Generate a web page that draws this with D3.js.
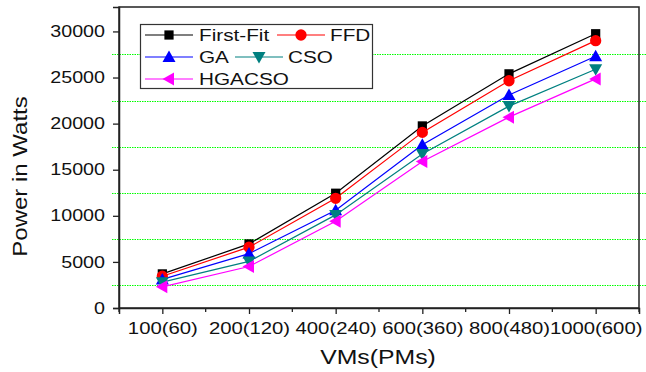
<!DOCTYPE html>
<html><head><meta charset="utf-8">
<script src="https://cdn.jsdelivr.net/npm/d3@7"></script>
<style>body{margin:0;background:#fff}svg{display:block;font-family:Arial,"Liberation Sans",sans-serif}</style>
</head><body><svg id="c" width="646" height="372"></svg>
<script>
const categories = ["100(60)","200(120)","400(240)","600(360)","800(480)","1000(600)"];
const firstFit = [3700, 6950, 12450, 19750, 25400, 29750];
const ffd      = [3450, 6600, 11900, 19050, 24650, 29000];
const ga       = [3100, 5900, 10600, 17700, 23100, 27300];
const cso      = [2800, 5050, 10100, 16700, 21900, 25900];
const hgacso   = [2300, 4500, 9400, 15900, 20700, 24850];
const yTicks = [0,5000,10000,15000,20000,25000,30000];
const gridVals = [2500,7500,12500,17500,22500,27500];
const seriesNames = ["First-Fit","FFD","GA","CSO","HGACSO"];

const series = [
  {name: seriesNames[0], values: firstFit, color: "#000000", sym: "square"},
  {name: seriesNames[1], values: ffd, color: "#ff0000", sym: "circle"},
  {name: seriesNames[2], values: ga, color: "#0000ff", sym: "up"},
  {name: seriesNames[3], values: cso, color: "#008080", sym: "down"},
  {name: seriesNames[4], values: hgacso, color: "#ff00ff", sym: "left"}
];

const FONT = "Arial, 'Liberation Sans', sans-serif";
const svg = d3.select("#c");
const L = 119, R = 639, T = 7, B = 308;
const x = d3.scalePoint().domain(categories).range([L, R]).padding(0.5);
const y = d3.scaleLinear().domain([0, 32650]).range([B, T]);

// grid lines (green dotted)
svg.append("g").attr("class", "grid").selectAll("line").data(gridVals).join("line")
  .attr("x1", 112).attr("x2", 646)
  .attr("y1", d => Math.round(y(d)) + 0.5).attr("y2", d => Math.round(y(d)) + 0.5)
  .style("stroke", "#00ff00").style("stroke-width", "1px")
  .style("stroke-dasharray", "1.5,1");

// frame
svg.append("rect").attr("x", L).attr("y", T).attr("width", R - L).attr("height", B - T)
  .attr("fill", "none").attr("stroke", "#222").attr("stroke-width", 1.5);

// y axis
const yAxis = d3.axisLeft(y).tickValues(yTicks).tickSize(6).tickFormat(d3.format("d"));
const gy = svg.append("g").attr("transform", `translate(${L},0)`).call(yAxis);
gy.select(".domain").attr("stroke", "#222").attr("stroke-width", 1.5);
gy.selectAll(".tick line").attr("stroke", "#222").attr("stroke-width", 1.3);
gy.selectAll(".tick text").attr("x", 0).attr("font-size", 16).attr("fill", "#111")
  .attr("font-family", FONT).attr("transform", "translate(-14,0) scale(1.23,1)");

// x axis
const xAxis = d3.axisBottom(x).tickSize(6);
const gx = svg.append("g").attr("transform", `translate(0,${B})`).call(xAxis);
gx.select(".domain").attr("stroke", "#222").attr("stroke-width", 1.5);
gx.selectAll(".tick line").attr("stroke", "#222").attr("stroke-width", 1.3);
gx.selectAll(".tick text").attr("y", 0).attr("dy", 0).attr("font-size", 16).attr("fill", "#111")
  .attr("font-family", FONT).attr("transform", "translate(0,26) scale(1.27,1)");
// minor x ticks at midpoints
const step = x.step();
const minorX = [L].concat(categories.map(c => x(c) + step / 2));
svg.append("g").selectAll("line").data(minorX).join("line")
  .attr("x1", d => d).attr("x2", d => d).attr("y1", B).attr("y2", B + 4)
  .attr("stroke", "#222").attr("stroke-width", 1.3);

// titles
svg.append("text").attr("transform", `translate(${(L + R) / 2 - 1},364) scale(1.18,1)`).attr("text-anchor", "middle")
  .attr("font-size", 21).attr("font-family", FONT).attr("fill", "#111").text("VMs(PMs)");
svg.append("text").attr("transform", `translate(27,${(T + B) / 2 + 19}) rotate(-90) scale(1.2,1)`).attr("text-anchor", "middle")
  .attr("font-size", 20).attr("font-family", FONT).attr("fill", "#111").text("Power in Watts");

function symbolPath(sym) {
  switch (sym) {
    case "square": return d3.symbol(d3.symbolSquare, 85)();
    case "circle": return d3.symbol(d3.symbolCircle, 100)();
    case "up": return "M0,-6.5L6.5,5L-6.5,5Z";
    case "down": return "M0,6.5L6.5,-5L-6.5,-5Z";
    case "left": return "M-6.5,0L5,-6.5L5,6.5Z";
  }
}

const line = d3.line().x((d, i) => x(categories[i])).y(d => y(d));
series.forEach(s => {
  svg.append("path").datum(s.values).attr("d", line).attr("fill", "none")
    .attr("stroke", s.color).attr("stroke-width", 1.2);
});
series.forEach(s => {
  svg.append("g").selectAll("path").data(s.values).join("path")
    .attr("transform", (d, i) => `translate(${x(categories[i])},${y(d)})`)
    .attr("d", symbolPath(s.sym)).attr("fill", s.color);
});

// legend
const lg = svg.append("g");
lg.append("rect").attr("x", 140.5).attr("y", 24.5).attr("width", 232).attr("height", 64)
  .attr("fill", "#fff").attr("stroke", "#333").attr("stroke-width", 1.2);
const legendItems = [
  {s: series[0], lx: 145, ly: 35, tx: 199},
  {s: series[1], lx: 277, ly: 35, tx: 330},
  {s: series[2], lx: 145, ly: 57, tx: 199},
  {s: series[3], lx: 235, ly: 57, tx: 288},
  {s: series[4], lx: 145, ly: 79, tx: 199}
];
legendItems.forEach(it => {
  lg.append("line").attr("x1", it.lx).attr("x2", it.lx + 48).attr("y1", it.ly).attr("y2", it.ly)
    .attr("stroke", it.s.color).attr("stroke-width", 1.2);
  lg.append("path").attr("transform", `translate(${it.lx + 24},${it.ly})`)
    .attr("d", symbolPath(it.s.sym)).attr("fill", it.s.color);
  lg.append("text").attr("transform", `translate(${it.tx},${it.ly + 6}) scale(1.22,1)`).attr("font-size", 17)
    .attr("font-family", FONT).attr("fill", "#111").text(it.s.name);
});
</script></body></html>
